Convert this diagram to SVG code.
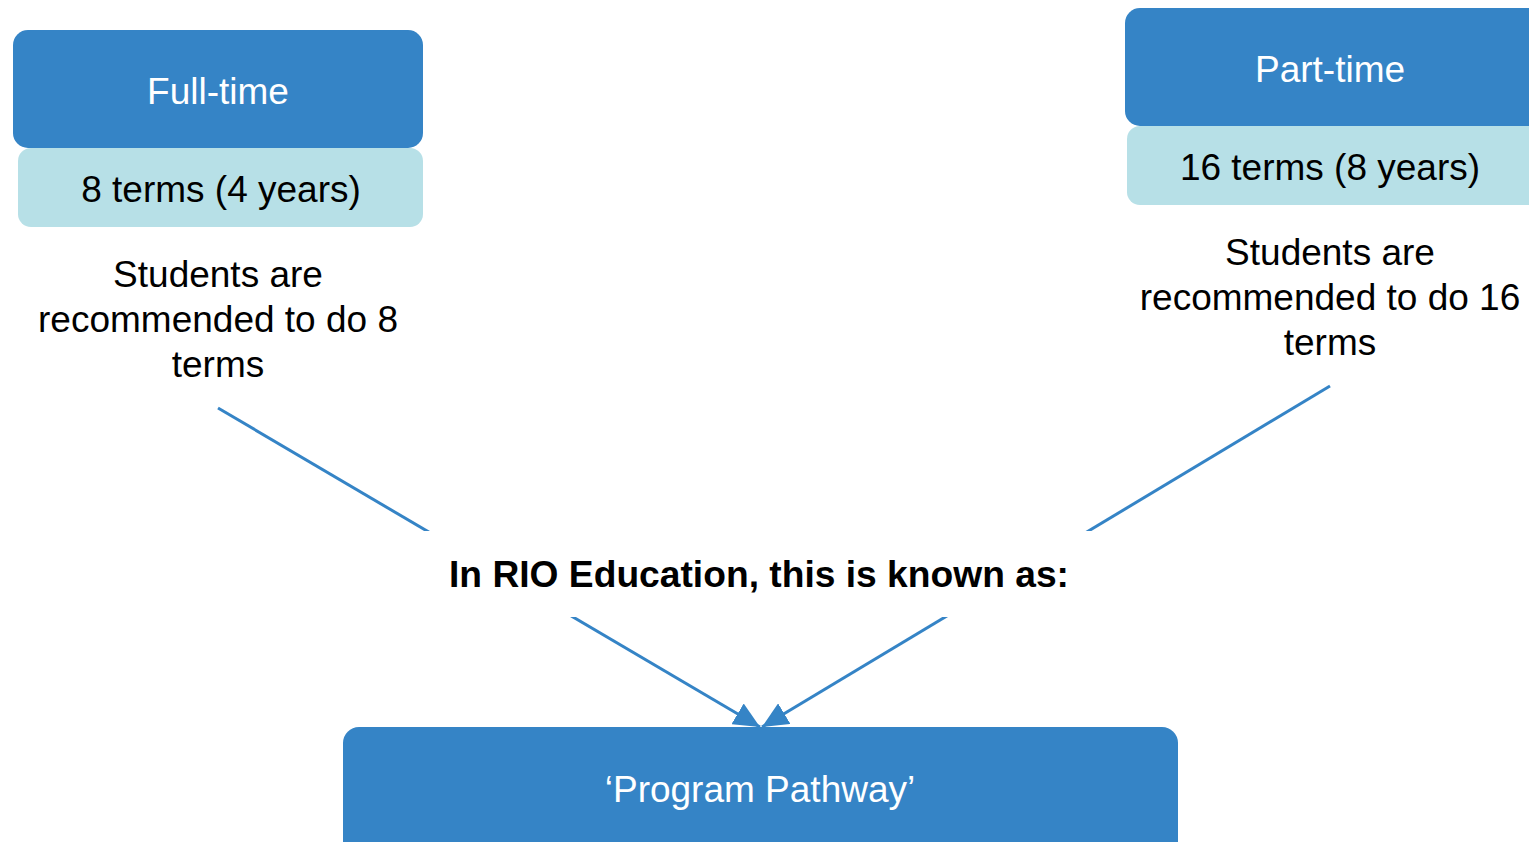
<svg xmlns="http://www.w3.org/2000/svg" width="1529" height="842" viewBox="0 0 1529 842">
<defs>
<style>
.dark{fill:#3584C6;}
.light{fill:#B7E0E7;}
.wt{font-family:"Liberation Sans",Arial,sans-serif;font-size:37px;fill:#FFFFFF;text-anchor:middle;}
.bt{font-family:"Liberation Sans",Arial,sans-serif;font-size:37px;fill:#000000;text-anchor:middle;}
.lbl{font-family:"Liberation Sans",Arial,sans-serif;font-size:37px;font-weight:bold;fill:#000000;text-anchor:middle;}
.conn{stroke:#3584C6;stroke-width:3;fill:none;}
</style>
<marker id="arr" markerUnits="userSpaceOnUse" markerWidth="28" markerHeight="24" refX="26" refY="12" orient="auto">
<path d="M0,0 L26,12 L0,24 Z" fill="#3584C6"/>
</marker>
</defs>
<rect width="1529" height="842" fill="#FFFFFF"/>
<g id="connectors">
<line class="conn" x1="218" y1="408" x2="760" y2="727" marker-end="url(#arr)"/>
<line class="conn" x1="1330" y1="386" x2="762" y2="727" marker-end="url(#arr)"/>
</g>
<g id="label">
<rect x="424" y="531" width="668" height="86" fill="#FFFFFF"/>
<text class="lbl" x="759" y="587" textLength="620" lengthAdjust="spacingAndGlyphs">In RIO Education, this is known as:</text>
</g>
<g id="fulltime">
<rect class="dark" x="13" y="30" width="410" height="118" rx="15"/>
<rect class="light" x="18" y="148" width="405" height="79" rx="13"/>
<text class="wt" x="218" y="104">Full-time</text>
<text class="bt" x="221" y="202">8 terms (4 years)</text>
</g>
<g id="fulltime-desc">
<text class="bt" x="218" y="287">Students are</text>
<text class="bt" x="218" y="332">recommended to do 8</text>
<text class="bt" x="218" y="377">terms</text>
</g>
<g id="parttime">
<rect class="dark" x="1125" y="8" width="420" height="118" rx="15"/>
<rect class="light" x="1127" y="126" width="420" height="79" rx="13"/>
<text class="wt" x="1330" y="82">Part-time</text>
<text class="bt" x="1330" y="180">16 terms (8 years)</text>
</g>
<g id="parttime-desc">
<text class="bt" x="1330" y="265">Students are</text>
<text class="bt" x="1330" y="310">recommended to do 16</text>
<text class="bt" x="1330" y="355">terms</text>
</g>
<g id="pathway">
<rect class="dark" x="343" y="727" width="835" height="140" rx="16"/>
<text class="wt" x="760" y="802">‘Program Pathway’</text>
</g>
</svg>
